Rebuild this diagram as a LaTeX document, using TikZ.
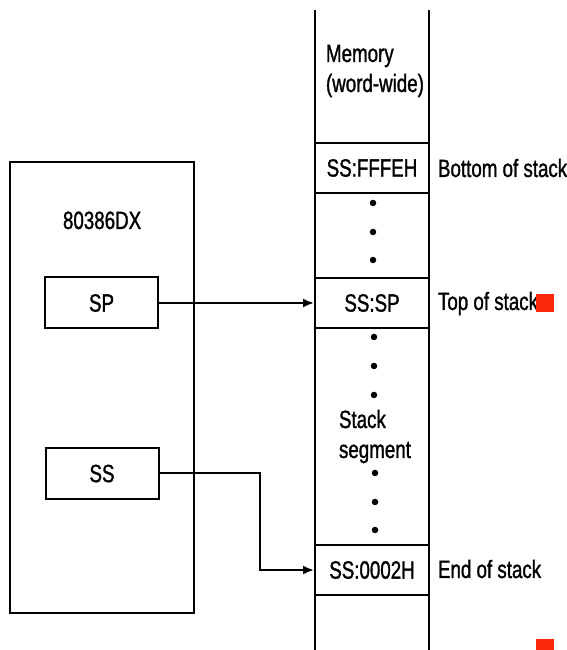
\documentclass[tikz,border=0pt]{standalone}
\usepackage{fontspec}
\setmainfont{Liberation Sans}[FakeStretch=0.75,FakeBold=1.2]
\usetikzlibrary{arrows.meta}
\definecolor{redc}{RGB}{250,40,10}
\begin{document}
\begin{tikzpicture}[x=1pt,y=1pt, line width=2pt,
  every node/.style={font=\fontsize{25}{30}\selectfont},
  regbox/.style={draw, minimum width=113pt, minimum height=51pt, inner sep=0pt},
  cell/.style={draw, minimum width=114pt, minimum height=50pt, inner sep=0pt},
  lbl/.style={anchor=base west, inner sep=0pt},
  dotn/.style={circle, fill, inner sep=0pt, minimum size=6.5pt},
  arr/.style={-{Latex[length=11pt,width=9pt]}},
  redsq/.style={fill=redc, draw=none, inner sep=0pt}]
\useasboundingbox (0,0) rectangle (567,650);
% memory column
\coordinate (ctl) at (315,640);
\coordinate (cbl) at (315,0);
\coordinate (ctr) at (429,640);
\coordinate (cbr) at (429,0);
\draw (ctl) -- (cbl);
\draw (ctr) -- (cbr);
\node[lbl] (mem1) at (325,588) {Memory};
\node[lbl] (mem2) at (325,558) {(word-wide)};
\node[cell] (top) at (372,482) {SS:FFFEH};
\node[cell] (spcell) at (372,347) {SS:SP};
\node[cell] (endcell) at (372,80) {SS:0002H};
\node[dotn] (d1) at (373,447) {};
\node[dotn] (d2) at (373,418) {};
\node[dotn] (d3) at (373,390) {};
\node[dotn] (d4) at (374,313) {};
\node[dotn] (d5) at (374,284) {};
\node[dotn] (d6) at (374,255) {};
\node[lbl] (stk1) at (338,222) {Stack};
\node[lbl] (stk2) at (338,192) {segment};
\node[dotn] (d7) at (375,177) {};
\node[dotn] (d8) at (375,148) {};
\node[dotn] (d9) at (375,120) {};
% labels
\node[lbl] (lb1) at (437,473) {Bottom of stack};
\node[lbl] (lb2) at (437,340) {Top of stack};
\node[lbl] (lb3) at (437,72) {End of stack};
\node[redsq, minimum width=18pt, minimum height=18pt] (r1) at (545,347) {};
\node[redsq, minimum width=18pt, minimum height=11pt] (r2) at (545,5.5) {};
% CPU
\node[draw, minimum width=184pt, minimum height=451pt, inner sep=0pt] (cpu) at (102,262.5) {};
\node[lbl] (cpuname) at (62,421) {80386DX};
\node[regbox] (sp) at (101.5,347) {SP};
\node[regbox] (ss) at (102,176.5) {SS};
% connectors
\draw[arr] (sp.east) -- (spcell.west);
\draw[arr] (ss.east) -- ++(100,0) |- (endcell.west);
\end{tikzpicture}
\end{document}
